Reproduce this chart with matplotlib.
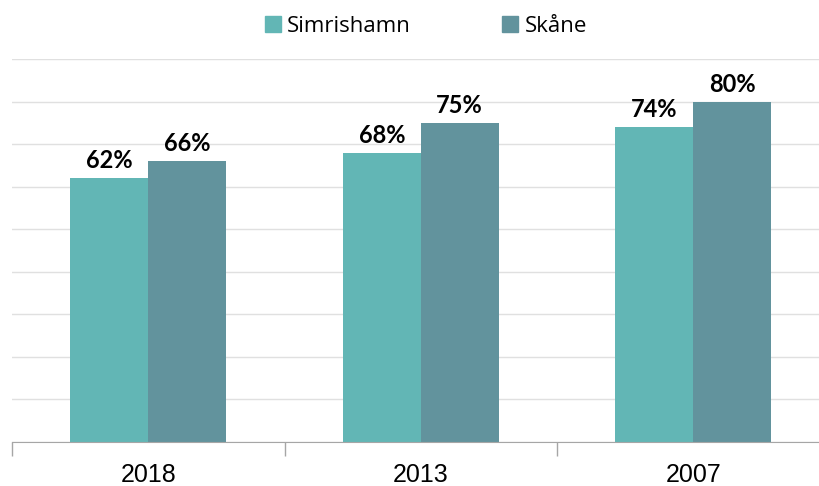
import matplotlib
matplotlib.use('Agg')
import matplotlib.pyplot as plt
import matplotlib.patches as mpatches
import numpy as np

# Data
years = ['2018', '2013', '2007']
simrishamn = [0.62, 0.68, 0.74]
skane = [0.66, 0.75, 0.80]
series_names = ['Simrishamn', 'Skåne']
colors = ['#62B6B5', '#62939D']

fig = plt.figure(figsize=(8.19, 4.86), dpi=100)
ax = fig.add_axes([12 / 819, 44 / 486, 817.5 / 819, 383 / 486])

x = np.arange(len(years))
w = 0.286
bars1 = ax.bar(x - w / 2, simrishamn, w, color=colors[0], zorder=3)
bars2 = ax.bar(x + w / 2, skane, w, color=colors[1], zorder=3)

for bars, vals in [(bars1, simrishamn), (bars2, skane)]:
    for b, v in zip(bars, vals):
        ax.annotate(f'{v * 100:.0f}%', (b.get_x() + b.get_width() / 2, v),
                    xytext=(0, 7), textcoords='offset points',
                    ha='center', va='baseline', fontsize=17, fontweight='bold',
                    family='Lato', color='black')

ax.set_xlim(-0.5, len(years) - 0.5)
ax.set_ylim(0, 0.9)
ax.set_yticks(np.arange(0, 0.91, 0.1))
ax.yaxis.grid(True, color='#E0E0E0', linewidth=1, zorder=0)
ax.tick_params(axis='y', left=False, labelleft=False)

# category tick marks between groups
ax.set_xticks(np.arange(-0.5, len(years), 1.0))
ax.set_xticklabels([])
ax.tick_params(axis='x', length=10, color='#A6A6A6', width=1)
ax.set_xticks(x, minor=True)
ax.set_xticklabels(years, minor=True, fontsize=18, family='Liberation Sans')
ax.tick_params(axis='x', which='minor', length=0, pad=15)

for s in ['top', 'right', 'left']:
    ax.spines[s].set_visible(False)
ax.spines['bottom'].set_color('#A6A6A6')
ax.spines['bottom'].set_zorder(4)

handles = [mpatches.Patch(color=c, label=n) for c, n in zip(colors, series_names)]
fig.legend(handles=handles, loc='center', bbox_to_anchor=(0.52, 0.946), ncol=2,
           frameon=False, handlelength=0.7, handleheight=0.7,
           handletextpad=0.3, columnspacing=4.1,
           prop={'family': 'Open Sans', 'size': 16})

fig.savefig('out.png', dpi=100, facecolor='white')
